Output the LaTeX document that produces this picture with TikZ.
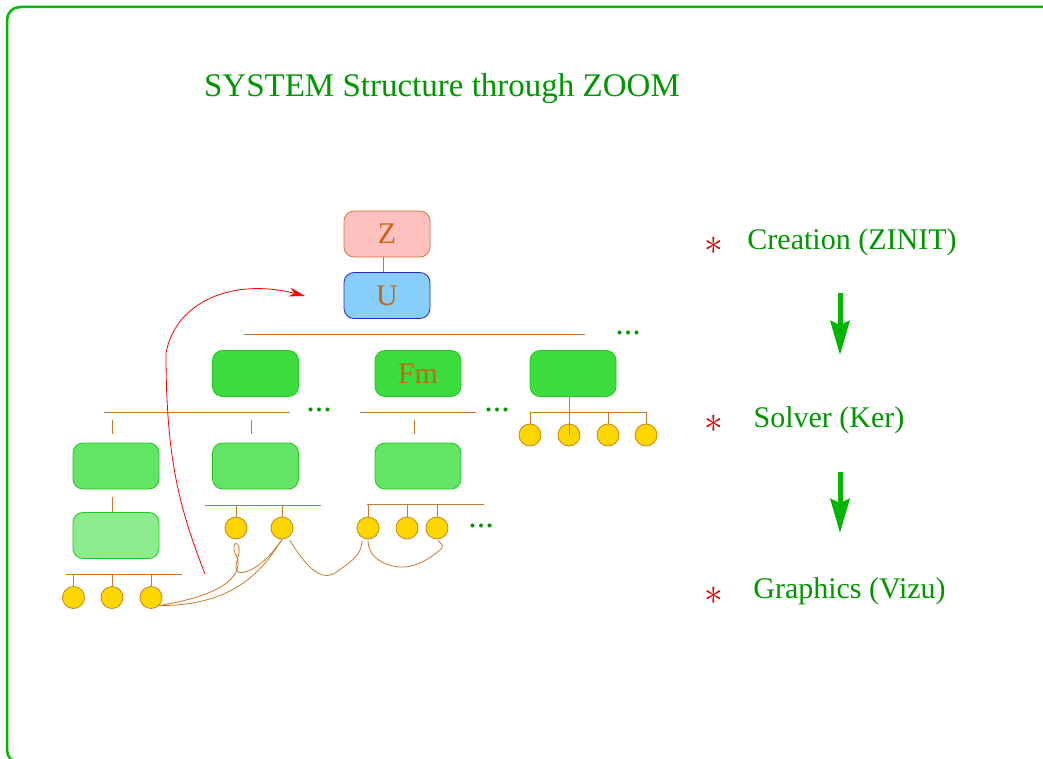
\documentclass[tikz,border=0pt]{standalone}
\usepackage{fontspec}
\usepackage{graphicx}
\setmainfont{Liberation Serif}
\usetikzlibrary{arrows.meta,calc}
\definecolor{framegreen}{RGB}{0,185,0}
\definecolor{textgreen}{RGB}{0,150,0}
\definecolor{arrowgreen}{RGB}{0,180,0}
\definecolor{brn}{RGB}{205,120,40}
\definecolor{lbl}{RGB}{200,100,20}
\definecolor{zpink}{RGB}{255,192,192}
\definecolor{zline}{RGB}{205,120,50}
\definecolor{ublue}{RGB}{135,206,250}
\definecolor{uline}{RGB}{40,40,200}
\definecolor{gA}{RGB}{60,220,60}
\definecolor{gB}{RGB}{100,228,100}
\definecolor{gC}{RGB}{140,235,140}
\definecolor{gline}{RGB}{30,200,30}
\definecolor{gold}{RGB}{255,215,0}
\definecolor{goldline}{RGB}{205,130,20}
\definecolor{starred}{RGB}{220,0,0}
\tikzset{
  boxnode/.style={rounded corners=10pt, minimum width=86pt, minimum height=46pt,
    inner sep=0pt, line width=0.8pt, text=lbl, font=\fontsize{30}{34}\selectfont},
  greenbox/.style={boxnode, draw=gline},
  ball/.style={circle, draw=goldline, fill=gold, line width=0.8pt, minimum size=22pt, inner sep=0pt},
  link/.style={draw=brn, line width=1pt},
  dotsnode/.style={text=textgreen, inner sep=0pt, font=\fontsize{34}{38}\selectfont},
  itemtext/.style={text=textgreen, inner sep=0pt, anchor=base, font=\fontsize{30}{34}\selectfont},
  titletext/.style={itemtext, font=\fontsize{33}{38}\selectfont},
  starnode/.style={text=starred, inner sep=0pt, font=\fontsize{24}{28}\selectfont},
  garrow/.style={draw=arrowgreen, line width=5pt, -{Stealth[length=34pt,width=19pt,inset=4pt]}},
  curvelink/.style={draw=brn, line width=0.8pt}
}
\newcommand{\redstar}{\scalebox{1.5}{$\ast$}}
\begin{document}
\begin{tikzpicture}[x=1pt,y=-1pt]
\useasboundingbox (0,0) rectangle (1043,759);
\clip (0,0) rectangle (1043,759);
\draw[framegreen, line width=2.5pt, rounded corners=13pt] (7,7) rectangle (1080,763);

\node[titletext] (title) at (442,97) {SYSTEM Structure through ZOOM};

% top boxes
\node[boxnode, fill=zpink, draw=zline] (Z) at (387,234) {Z};
\node[boxnode, fill=ublue, draw=uline] (U) at (387,295.5) {U};
\draw[link] ($(Z.south)+(-4,0)$) -- ($(U.north)+(-4,0)$);

% level 2
\coordinate (barAL) at (244,334);
\coordinate (barAR) at (585,334);
\draw[link] (barAL) -- (barAR);
\draw[link] ($(U.south)+(-4,0)$) -- ($(U.south)+(-4,0)$ |- barAL);
\node[dotsnode] (dA) at (628,333) {...};

\node[greenbox, fill=gA] (B1) at (255.5,373.5) {};
\node[greenbox, fill=gA] (B2) at (418,373.5) {Fm};
\node[greenbox, fill=gA] (B3) at (573,373.5) {};
\foreach \b in {B1,B2,B3}{
  \draw[link] ($(\b.north)+(-4,0)$) -- ($(\b.north)+(-4,0)$ |- barAL);
}

% level 3 under B1
\coordinate (barBL) at (104,412);
\coordinate (barBR) at (290,412);
\draw[link] (barBL) -- (barBR);
\draw[link] ($(B1.south)+(-4,0)$) -- ($(B1.south)+(-4,0)$ |- barBL);
\node[dotsnode] (dB) at (319,410) {...};

\node[greenbox, fill=gB] (L1) at (116,466) {};
\node[greenbox, fill=gB] (M1) at (255.5,466) {};
\draw[link] ($(L1.north)+(-4,-9)$) -- ++(0,-14);
\draw[link] ($(M1.north)+(-4,-9)$) -- ++(0,-14);

% level 3 under B2
\coordinate (barCL) at (360,412);
\coordinate (barCR) at (476,412);
\draw[link] (barCL) -- (barCR);
\draw[link] ($(B2.south)+(-4,0)$) -- ($(B2.south)+(-4,0)$ |- barCL);
\node[dotsnode] (dC) at (497,410) {...};
\node[greenbox, fill=gB] (F1) at (418,466) {};
\draw[link] ($(F1.north)+(-4,-9)$) -- ++(0,-14);

% under B3
\coordinate (barDL) at (530,412);
\coordinate (barDR) at (647,412);
\draw[link] (barDL) -- (barDR);
\node[ball] (r1) at (530,435) {};
\node[ball] (r2) at (569,435) {};
\node[ball] (r3) at (608,435) {};
\node[ball] (r4) at (646,435) {};
\foreach \c in {r1,r3,r4}{
  \draw[link] (\c.north) -- (\c.north |- barDL);
}
\draw[link] ($(B3.south)+(-4,0)$) -- (r2.center);

% L chain
\node[greenbox, fill=gC] (L2) at (116,535.5) {};
\draw[link] ($(L2.north)+(-4,-15)$) -- ($(L2.north)+(-4,0)$);
\coordinate (barEL) at (66,574);
\coordinate (barER) at (182,574);
\draw[link] (barEL) -- (barER);
\draw[link] ($(L2.south)+(-4,0)$) -- ($(L2.south)+(-4,0)$ |- barEL);
\node[ball] (l1) at (73.5,597.5) {};
\node[ball] (l2) at (112,597.5) {};
\node[ball] (l3) at (151,597.5) {};
\foreach \c in {l1,l2,l3}{
  \draw[link] (\c.north) -- (\c.north |- barEL);
}

% M chain
\coordinate (barFL) at (205,505);
\coordinate (barFR) at (321,505);
\draw[link] (barFL) -- (barFR);
\draw[link] ($(M1.south)+(-4,0)$) -- ($(M1.south)+(-4,0)$ |- barFL);
\node[ball] (m1) at (236,528) {};
\node[ball] (m2) at (282,528) {};
\foreach \c in {m1,m2}{
  \draw[link] (\c.north) -- (\c.north |- barFL);
}

% F chain
\coordinate (barGL) at (367,504);
\coordinate (barGR) at (484,504);
\draw[link] (barGL) -- (barGR);
\draw[link] ($(F1.south)+(-4,0)$) -- ($(F1.south)+(-4,0)$ |- barGL);
\node[ball] (f1) at (368,528) {};
\node[ball] (f2) at (407,528) {};
\node[ball] (f3) at (437,528) {};
\foreach \c in {f1,f2,f3}{
  \draw[link] (\c.north) -- (\c.north |- barGL);
}
\node[dotsnode] (dD) at (481,526) {...};

% hand-drawn curves between balls
\draw[curvelink] (l3.south east) .. controls (205,598) and (236,585) .. (238,565)
   .. controls (239,556) and (232,552) .. (234,546)
   .. controls (236,540) and (240,545) .. (239,552)
   .. controls (238,560) and (234,566) .. (237,571)
   .. controls (240,576) and (262,570) .. (m2.south);
\draw[curvelink] (m2.south) .. controls (265,566) and (238,606) .. (l3.south east);
\draw[curvelink] ($(m2.south)+(8,1)$) .. controls (305,565) and (320,582) .. (335,573)
   .. controls (350,562) and (362,556) .. ($(f1.south)+(-6,1)$);
\draw[curvelink] ($(f1.south)+(0,1)$) .. controls (368,560) and (390,568) .. (405,567)
   .. controls (420,566) and (436,554) .. (442,548)
   .. controls (444,545) and (440,543) .. ($(f3.south)+(1,1)$);

% red arrow
\coordinate (rs) at (205,574);
\coordinate (re) at (305,296);
\draw[red, line width=0.8pt, -{Stealth[length=16pt,width=9pt,inset=5pt]}]
  (rs) .. controls (180,510) and (166,460) .. (166,353)
       .. controls (176,300) and (235,278) .. (re);

% right column
\node[itemtext] (cre) at (852,249) {Creation (ZINIT)};
\node[itemtext] (sol) at (829,427) {Solver (Ker)};
\node[itemtext] (gra) at (849.5,598) {Graphics (Vizu)};
\node[starnode] (s1) at (714,246) {\redstar};
\node[starnode] (s2) at (714,424) {\redstar};
\node[starnode] (s3) at (714,596) {\redstar};
\coordinate (a1s) at (840,293);
\coordinate (a1e) at (840,355);
\coordinate (a2s) at (840,472);
\coordinate (a2e) at (840,533);
\draw[garrow] (a1s) -- (a1e);
\draw[garrow] (a2s) -- (a2e);
\end{tikzpicture}
\end{document}
